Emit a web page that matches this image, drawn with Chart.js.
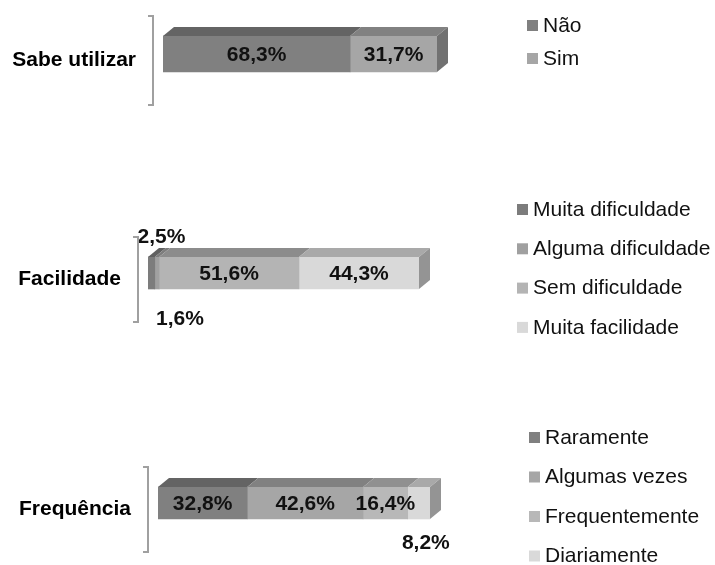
<!DOCTYPE html>
<html>
<head>
<meta charset="utf-8">
<script src="https://cdn.jsdelivr.net/npm/chart.js@4"></script>
<style>
  body { margin: 0; background: #fff; }
  canvas { position: absolute; left: 0; }
</style>
</head>
<body>
<canvas id="c1" width="715" height="130" style="top:0"></canvas>
<canvas id="c2" width="715" height="150" style="top:190px"></canvas>
<canvas id="c3" width="715" height="145" style="top:420px"></canvas>
<script>
(function(){
  // data
  const cat1 = ['Sabe utilizar'];
  const series1 = ['Não', 'Sim'];
  const values1 = [68.3, 31.7];

  const cat2 = ['Facilidade'];
  const series2 = ['Muita dificuldade', 'Alguma dificuldade', 'Sem dificuldade', 'Muita facilidade'];
  const values2 = [2.5, 1.6, 51.6, 44.3];

  const cat3 = ['Frequência'];
  const series3 = ['Raramente', 'Algumas vezes', 'Frequentemente', 'Diariamente'];
  const values3 = [32.8, 42.6, 16.4, 8.2];

  // greys
  const colors1 = ['#808080', '#a6a6a6'];
  const colors2 = ['#7c7c7c', '#a0a0a0', '#b4b4b4', '#d9d9d9'];
  const colors3 = ['#808080', '#a6a6a6', '#b8b8b8', '#d9d9d9'];

  const FONT = '"Liberation Sans", Arial, sans-serif';

  function shade(hex, f) {
    const n = parseInt(hex.slice(1), 16);
    const r = Math.round(((n >> 16) & 255) * f);
    const g = Math.round(((n >> 8) & 255) * f);
    const b = Math.round((n & 255) * f);
    return 'rgb(' + r + ',' + g + ',' + b + ')';
  }
  const fmt = v => v.toFixed(1).replace('.', ',') + '%';

  // 3d faces, value labels, bracket, category label and legend
  const deco = {
    id: 'deco',
    afterDatasetsDraw(chart, args, o) {
      const ctx = chart.ctx;
      const sets = chart.data.datasets;
      const n = sets.length;
      let top = 0, bottom = 0, left = 0;
      ctx.save();
      sets.forEach((ds, i) => {
        const bar = chart.getDatasetMeta(i).data[0];
        const h = bar.height / 2;
        top = bar.y - h; bottom = bar.y + h;
        const x0 = Math.min(bar.base, bar.x), x1 = Math.max(bar.base, bar.x);
        if (i === 0) left = x0;
        ctx.fillStyle = shade(ds.backgroundColor, 0.78);
        ctx.beginPath();
        ctx.moveTo(x0, top);
        ctx.lineTo(x0 + o.dx, top - o.dy);
        ctx.lineTo(x1 + o.dx, top - o.dy);
        ctx.lineTo(x1, top);
        ctx.closePath();
        ctx.fill();
        if (i === n - 1) {
          ctx.fillStyle = shade(ds.backgroundColor, 0.68);
          ctx.beginPath();
          ctx.moveTo(x1, top);
          ctx.lineTo(x1 + o.dx, top - o.dy);
          ctx.lineTo(x1 + o.dx, bottom - o.dy);
          ctx.lineTo(x1, bottom);
          ctx.closePath();
          ctx.fill();
        }
      });

      // values
      ctx.font = 'bold 21px ' + FONT;
      ctx.fillStyle = '#111';
      ctx.textAlign = 'center';
      ctx.textBaseline = 'middle';
      sets.forEach((ds, i) => {
        const bar = chart.getDatasetMeta(i).data[0];
        const off = o.offsets[i] || [0, 0];
        ctx.fillText(fmt(ds.data[0]), (bar.base + bar.x) / 2 + off[0], bar.y + 1 + off[1]);
      });

      // bracket
      const bx = left - 10, by0 = top - 20, by1 = bottom + 33;
      ctx.strokeStyle = '#a0a0a0';
      ctx.lineWidth = 2;
      ctx.beginPath();
      ctx.moveTo(bx - 5, by0);
      ctx.lineTo(bx, by0);
      ctx.lineTo(bx, by1);
      ctx.lineTo(bx - 5, by1);
      ctx.stroke();

      // category label
      ctx.fillStyle = '#000';
      ctx.textAlign = 'right';
      ctx.fillText(chart.data.labels[0], bx - 17, (by0 + by1) / 2);

      // legend
      ctx.font = '21px ' + FONT;
      ctx.textAlign = 'left';
      sets.forEach((ds, i) => {
        const y = o.legend.y + i * o.legend.gap;
        ctx.fillStyle = ds.backgroundColor;
        ctx.fillRect(o.legend.x, y - 5, 11, 11);
        ctx.fillStyle = '#111';
        ctx.fillText(ds.label, o.legend.x + 16, y + 1);
      });
      ctx.restore();
    }
  };

  function makeChart(id, labels, names, values, colors, cfg) {
    const ctx = document.getElementById(id).getContext('2d');
    return new Chart(ctx, {
      type: 'bar',
      data: {
        labels: labels,
        datasets: names.map((nm, i) => ({
          label: nm,
          data: [values[i]],
          backgroundColor: colors[i],
          borderWidth: 0,
          barThickness: cfg.thickness
        }))
      },
      options: {
        indexAxis: 'y',
        responsive: false,
        animation: false,
        layout: { padding: cfg.padding },
        scales: {
          x: { stacked: true, min: 0, max: 100, display: false },
          y: { stacked: true, display: false }
        },
        plugins: {
          legend: { display: false },
          tooltip: { enabled: false },
          deco: { dx: 11, dy: 9, offsets: cfg.offsets, legend: cfg.legend }
        }
      },
      plugins: [deco]
    });
  }

  if (window.Chart) {
    makeChart('c1', cat1, series1, values1, colors1, {
      thickness: 36,
      padding: { left: 163, right: 278, top: 34, bottom: 56 },
      offsets: [],
      legend: { x: 527, y: 25, gap: 33 }
    });
    makeChart('c2', cat2, series2, values2, colors2, {
      thickness: 32,
      padding: { left: 148, right: 296, top: 63, bottom: 47 },
      offsets: [[10, -37], [23, 45]],
      legend: { x: 517, y: 19, gap: 39.3 }
    });
    makeChart('c3', cat3, series3, values3, colors3, {
      thickness: 32,
      padding: { left: 158, right: 285, top: 63, bottom: 42 },
      offsets: [[0, 0], [0, 0], [0, 0], [7, 39]],
      legend: { x: 529, y: 17, gap: 39.5 }
    });
  }
})();
</script>
</body>
</html>
